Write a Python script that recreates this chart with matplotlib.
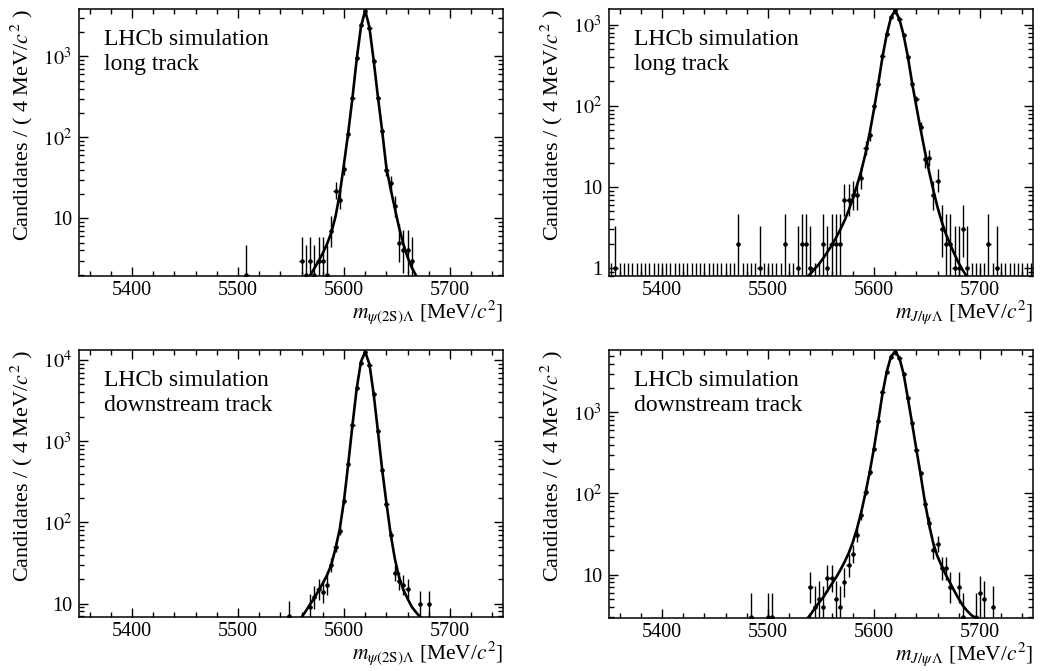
import math
import matplotlib
matplotlib.use("Agg")
import matplotlib.pyplot as plt
import numpy as np
from matplotlib.ticker import MultipleLocator, LogLocator, FuncFormatter, NullFormatter

plt.rcParams['font.family'] = ['Liberation Serif', 'DejaVu Serif']
plt.rcParams['mathtext.fontset'] = 'stix'

# ---------------- data (bin centres in MeV/c^2, 4 MeV bins) ----------------
bin_centres = np.arange(5352, 5750, 4)

# panel 1: psi(2S) Lambda, long track  (bins not listed are empty)
p1_x = [5508, 5560, 5564, 5568, 5572, 5576, 5580, 5584, 5588, 5592, 5596, 5600, 5604,
        5608, 5612, 5616, 5620, 5624, 5628, 5632, 5636, 5640, 5644, 5648, 5652, 5656,
        5660, 5664]
p1_n = [2, 3, 2, 3, 2, 3, 3, 2, 7, 22, 17, 41, 110,
        309, 960, 2450, 3700, 2260, 870, 305, 120, 40, 27, 14, 5, 4,
        4, 3]
p1_fit_x = [5564, 5568, 5572, 5576, 5580, 5584, 5588, 5592, 5596, 5600, 5604, 5608, 5612,
            5616, 5620, 5624, 5628, 5632, 5636, 5640, 5644, 5648, 5652, 5656, 5660, 5664,
            5668, 5672]
p1_fit_y = [1.6, 1.95, 2.4, 2.95, 3.7, 4.8, 6.6, 10.5, 20, 47, 115, 310, 930,
            2340, 3700, 2290, 890, 316, 120, 42, 23, 13.2, 7.6, 4.8, 3.3, 2.45,
            1.95, 1.6]

# panel 2: J/psi Lambda, long track
p2_x = [5356, 5472, 5492, 5516, 5528, 5532, 5536, 5540, 5552, 5556, 5560, 5564, 5568,
        5572, 5576, 5580, 5584, 5588, 5592, 5596, 5600, 5604, 5608, 5612, 5616, 5620,
        5624, 5628, 5632, 5636, 5640, 5644, 5648, 5652, 5656, 5660, 5664, 5668, 5672,
        5676, 5680, 5684, 5688, 5708, 5716]
p2_n = [1, 2, 1, 2, 1, 2, 2, 1, 2, 1, 2, 2, 2,
        7, 7, 8, 8, 13, 30, 44, 99, 185, 410, 770, 1250, 1500,
        1180, 750, 405, 184, 120, 55, 22, 23, 8, 12, 3, 2, 2,
        1, 1, 3, 1, 2, 1]
p2_fit_x = [5528, 5532, 5536, 5540, 5544, 5548, 5552, 5556, 5560, 5564, 5568, 5572, 5576,
            5580, 5584, 5588, 5592, 5596, 5600, 5604, 5608, 5612, 5616, 5620, 5624, 5628,
            5632, 5636, 5640, 5644, 5648, 5652, 5656, 5660, 5664, 5668, 5672, 5676, 5680,
            5684, 5688, 5692]
p2_fit_y = [0.56, 0.66, 0.76, 0.85, 0.98, 1.12, 1.32, 1.58, 1.9, 2.35, 2.95, 3.8, 5.1,
            7.2, 10.5, 15.8, 26, 47, 91, 186, 400, 760, 1230, 1510, 1170, 740,
            400, 190, 98, 51, 27.5, 15.5, 9.1, 5.6, 3.7, 2.6, 1.95, 1.48, 1.15,
            0.93, 0.78, 0.65]

# panel 3: psi(2S) Lambda, downstream track
p3_x = [5548, 5568, 5572, 5576, 5580, 5584, 5588, 5592, 5596, 5600, 5604, 5608, 5612,
        5616, 5620, 5624, 5628, 5632, 5636, 5640, 5644, 5648, 5652, 5656, 5660, 5672,
        5680]
p3_n = [7, 9, 12, 15, 14, 17, 30, 50, 78, 183, 520, 1590, 4500,
        9300, 12500, 8800, 3840, 1350, 443, 170, 70, 24, 19, 17, 15, 10,
        10]
p3_fit_x = [5552, 5556, 5560, 5564, 5568, 5572, 5576, 5580, 5584, 5588, 5592, 5596, 5600,
            5604, 5608, 5612, 5616, 5620, 5624, 5628, 5632, 5636, 5640, 5644, 5648, 5652,
            5656, 5660, 5664, 5668, 5672, 5676]
p3_fit_y = [4.6, 5.5, 6.8, 8.1, 9.8, 11.7, 14.5, 17.8, 22.4, 30, 48, 83, 186,
            525, 1585, 4470, 9550, 12600, 8900, 3800, 1320, 447, 174, 72, 35.5, 21,
            14.8, 11.5, 9.1, 7.8, 6.8, 5.8]

# panel 4: J/psi Lambda, downstream track
p4_x = [5484, 5500, 5504, 5540, 5544, 5548, 5552, 5556, 5560, 5564, 5568, 5572, 5576,
        5580, 5584, 5588, 5592, 5596, 5600, 5604, 5608, 5612, 5616, 5620, 5624, 5628,
        5632, 5636, 5640, 5644, 5648, 5652, 5656, 5660, 5664, 5668, 5672, 5680, 5684,
        5696, 5700, 5704, 5712]
p4_n = [3, 3, 3, 7, 4, 5, 4, 9, 9, 5, 4, 8, 13,
        18, 31, 55, 105, 183, 350, 780, 1760, 3150, 4860, 5500, 4650, 2950,
        1500, 731, 346, 177, 75, 43, 20, 24, 12, 12, 7, 7, 3,
        3, 6, 5, 4]
p4_fit_x = [5532, 5536, 5540, 5544, 5548, 5552, 5556, 5560, 5564, 5568, 5572, 5576, 5580,
            5584, 5588, 5592, 5596, 5600, 5604, 5608, 5612, 5616, 5620, 5624, 5628, 5632,
            5636, 5640, 5644, 5648, 5652, 5656, 5660, 5664, 5668, 5672, 5676, 5680, 5684,
            5688, 5692, 5696, 5700]
p4_fit_y = [2.3, 2.75, 3.2, 3.8, 4.5, 5.2, 6.3, 7.6, 9.1, 11.2, 14.1, 18.2, 25,
            37, 59, 102, 186, 363, 776, 1700, 3160, 4900, 5620, 4680, 2950, 1480,
            724, 347, 170, 79, 41, 24, 16.6, 12.6, 9.8, 7.8, 6.2, 5.0, 4.1,
            3.55, 3.15, 2.9, 2.6]

x_labels = [r"$m_{\psi\mathrm{(2S)}\mathit{\Lambda}}$ [MeV/$c^{2}$]",
            r"$m_{J/\psi\,\mathit{\Lambda}}$ [MeV/$c^{2}$]",
            r"$m_{\psi\mathrm{(2S)}\mathit{\Lambda}}$ [MeV/$c^{2}$]",
            r"$m_{J/\psi\,\mathit{\Lambda}}$ [MeV/$c^{2}$]"]
track_labels = ["long track", "long track", "downstream track", "downstream track"]
y_limits = [(1.93, 3865), (0.80, 1565), (6.84, 13280), (2.91, 5880)]
y_label = "Candidates / ( 4 MeV/$c^{2}$ )"

panels = [(p1_x, p1_n, p1_fit_x, p1_fit_y),
          (p2_x, p2_n, p2_fit_x, p2_fit_y),
          (p3_x, p3_n, p3_fit_x, p3_fit_y),
          (p4_x, p4_n, p4_fit_x, p4_fit_y)]


# ---------------- Poisson (Garwood, 68.27%) intervals as RooFit ----------------
def pois_cdf(k, mu):
    if k < 0:
        return 0.0
    s = 0.0
    for i in range(k + 1):
        s += math.exp(-mu + i * math.log(mu) - math.lgamma(i + 1))
    return s


def pois_interval(n):
    if n == 0:
        return 0.0, 1.148
    if n > 100:
        return n - math.sqrt(n), n + math.sqrt(n)
    a = 0.158655
    lo_a, lo_b = 1e-9, float(n)
    for _ in range(80):
        m = 0.5 * (lo_a + lo_b)
        if 1 - pois_cdf(n - 1, m) < a:
            lo_a = m
        else:
            lo_b = m
    hi_a, hi_b = float(n), n + 10 * math.sqrt(n) + 10
    for _ in range(80):
        m = 0.5 * (hi_a + hi_b)
        if pois_cdf(n, m) > a:
            hi_a = m
        else:
            hi_b = m
    return 0.5 * (lo_a + lo_b), 0.5 * (hi_a + hi_b)


def ylab_fmt(v, pos):
    k = int(round(math.log10(v)))
    if k == 0:
        return "1"
    if k == 1:
        return "10"
    return r"$10^{%d}$" % k


W, H = 1043, 671
boxes = [(79, 9, 503, 276), (609, 9, 1033, 276), (79, 350, 503, 617), (609, 350, 1033, 618)]

fig = plt.figure(figsize=(W / 100, H / 100), dpi=100)

for i, (px, pn, fx, fy) in enumerate(panels):
    l, t, r, b = boxes[i]
    ax = fig.add_axes([l / W, 1 - b / H, (r - l) / W, (b - t) / H])
    ax.set_yscale('log')
    ax.set_xlim(5350, 5750)
    ax.set_ylim(*y_limits[i])

    counts = dict(zip(px, pn))
    xs, ys, elo, ehi, zx = [], [], [], [], []
    for c in bin_centres:
        n = counts.get(int(c), 0)
        lo, hi = pois_interval(n)
        if n == 0:
            zx.append(c)
        else:
            xs.append(c)
            ys.append(n)
            elo.append(n - lo)
            ehi.append(hi - n)
    ax.vlines(zx, 1e-3, 1.148, color='k', lw=1.0)
    ax.errorbar(xs, ys, xerr=2.0, yerr=[elo, ehi], fmt='o', ms=2.2, color='k',
                ecolor='k', elinewidth=1.0, capsize=0, zorder=3)
    ax.plot(fx, fy, color='k', lw=1.9, zorder=4)

    ax.xaxis.set_major_locator(MultipleLocator(100))
    ax.xaxis.set_minor_locator(MultipleLocator(20))
    ax.yaxis.set_major_locator(LogLocator(base=10, numticks=20))
    ax.yaxis.set_minor_locator(LogLocator(base=10, subs=np.arange(2, 10), numticks=20))
    ax.yaxis.set_major_formatter(FuncFormatter(ylab_fmt))
    ax.yaxis.set_minor_formatter(NullFormatter())
    ax.tick_params(which='both', direction='in', top=True, right=True, labelsize=14.5,
                   width=1.0, pad=5)
    ax.tick_params(axis='x', which='both', pad=3.5)
    ax.tick_params(which='major', length=6.5)
    ax.tick_params(which='minor', length=3.5)
    for s in ax.spines.values():
        s.set_linewidth(1.1)

    ax.text(-57 / (r - l), 1.0, y_label, rotation=90, ha='center', va='top',
            fontsize=16, transform=ax.transAxes)
    ax.text(1.0, -42 / (b - t), x_labels[i], ha='right', va='baseline',
            fontsize=15.5, transform=ax.transAxes)
    ax.text(0.058, 1 - 36 / (b - t), "LHCb simulation", fontsize=17, va='baseline',
            ha='left', transform=ax.transAxes)
    ax.text(0.058, 1 - 61 / (b - t), track_labels[i], fontsize=17, va='baseline',
            ha='left', transform=ax.transAxes)

fig.savefig("out.png", dpi=100)
